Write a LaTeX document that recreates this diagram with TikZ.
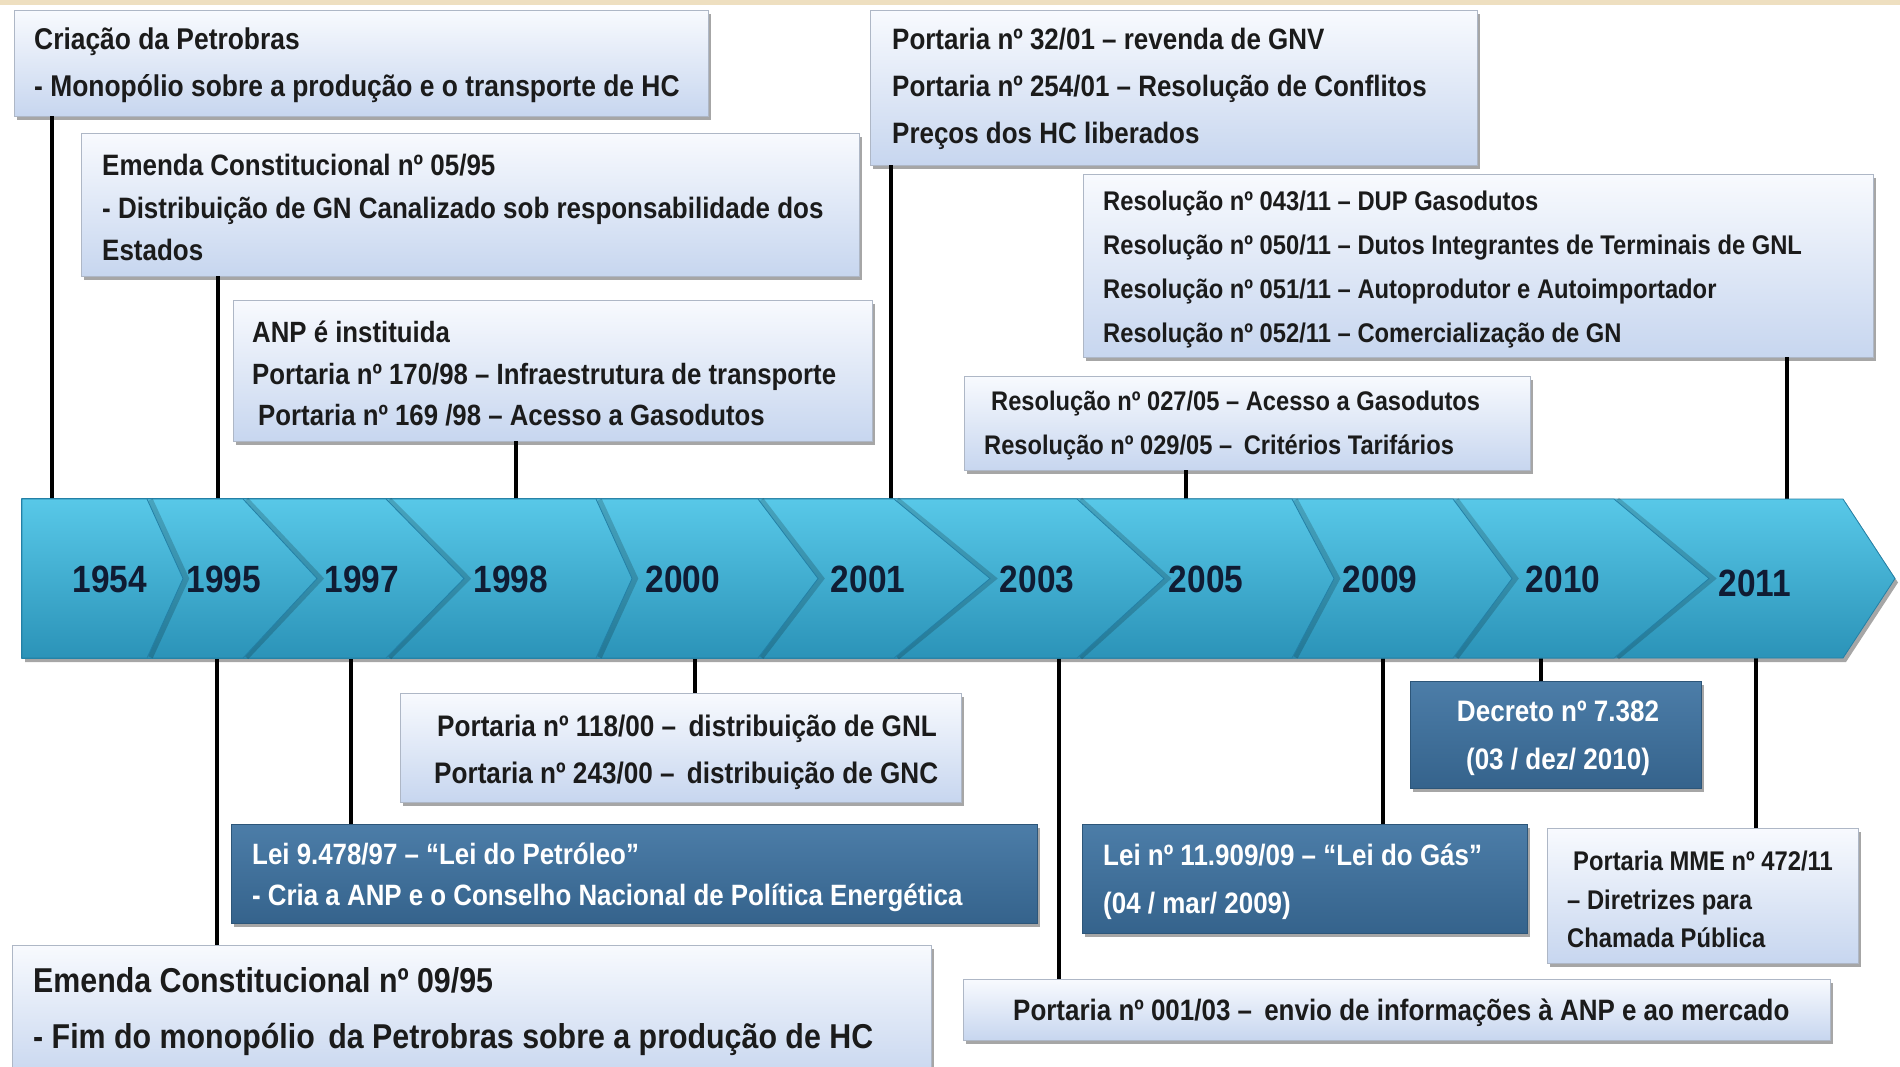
\documentclass[tikz,border=0pt]{standalone}
\usepackage{fontspec}
\newfontfamily\nar{Liberation Sans}[FakeStretch=0.88]
\usetikzlibrary{shadows,fit}
\definecolor{beige}{HTML}{EEDFC0}
\definecolor{lbtop}{HTML}{F8FAFE}
\definecolor{lbbot}{HTML}{C7D6EF}
\definecolor{lbline}{HTML}{AEB7C6}
\definecolor{dbtop}{HTML}{4C7DA8}
\definecolor{dbbot}{HTML}{35638C}
\definecolor{dbline}{HTML}{2D5679}
\definecolor{chtop}{HTML}{58C8E8}
\definecolor{chmid}{HTML}{3BB1D6}
\definecolor{chbot}{HTML}{2B93B8}
\definecolor{chline}{HTML}{2380A6}
\definecolor{yearc}{HTML}{101C33}
\definecolor{txtc}{HTML}{1B1B1B}
\begin{document}
\begin{tikzpicture}[x=1pt,y=-1pt,
  fs/.style 2 args={font=\nar\bfseries\fontsize{#1}{#2}\selectfont},
  lbox/.style={inner sep=0pt, outer sep=0pt, top color=lbtop, bottom color=lbbot,
    draw=lbline, line width=1pt,
    drop shadow={shadow xshift=3pt, shadow yshift=-4pt, fill=black, opacity=0.35}},
  dbox/.style={inner sep=0pt, outer sep=0pt, top color=dbtop, bottom color=dbbot,
    draw=dbline, line width=1pt,
    drop shadow={shadow xshift=3pt, shadow yshift=-4pt, fill=black, opacity=0.35}},
  txt/.style={inner sep=0pt, anchor=west, align=left, text=txtc, yshift=-3pt},
  wtxt/.style={inner sep=0pt, anchor=west, align=left, text=white, yshift=-3pt},
  yr/.style={inner sep=0pt, text=yearc, fs={38}{40}},
  connt/.style={draw=black, line width=4.5pt},
  connb/.style={draw=black, line width=3.5pt},
  chev/.style={top color=chtop, middle color=chmid, bottom color=chbot, draw=chline, line width=0.8pt},
]
\useasboundingbox (0,0) rectangle (1900,1066);
\fill[white] (0,0) rectangle (1900,1066);
\fill[beige] (0,0) rectangle (1900,5);

% coordinates on the timeline
\coordinate (tA) at (52,499);
\coordinate (tB) at (218,499);
\coordinate (tC) at (516,499);
\coordinate (tD) at (891,499);
\coordinate (tF) at (1186,499);
\coordinate (tE) at (1787,499);
\coordinate (bG) at (217,658);
\coordinate (bH) at (351,658);
\coordinate (bI) at (695,658);
\coordinate (bJ) at (1059,658);
\coordinate (bK) at (1383,658);
\coordinate (bL) at (1541,658);
\coordinate (bM) at (1756,658);

% boxes (geometry)
\node[lbox, fit={(14,10) (708,116)}] (A) {};
\node[lbox, fit={(81,133) (859,276)}] (B) {};
\node[lbox, fit={(233,300) (872,441)}] (C) {};
\node[lbox, fit={(870,10) (1477,165)}] (D) {};
\node[lbox, fit={(1083,174) (1873,357)}] (E) {};
\node[lbox, fit={(964,376) (1530,470)}] (F) {};
\node[lbox, fit={(12,945) (931,1080)}] (G) {};
\node[dbox, fit={(231,824) (1037,923)}] (H) {};
\node[lbox, fit={(400,693) (961,802)}] (I) {};
\node[lbox, fit={(963,979) (1830,1040)}] (J) {};
\node[dbox, fit={(1082,824) (1527,933)}] (K) {};
\node[dbox, fit={(1410,681) (1701,788)}] (L) {};
\node[lbox, fit={(1547,828) (1858,963)}] (M) {};

% connectors
\draw[connt] (tA |- A.south) -- (tA);
\draw[connt] (tB |- B.south) -- (tB);
\draw[connt] (tC |- C.south) -- (tC);
\draw[connt] (tD |- D.south) -- (tD);
\draw[connt] (tF |- F.south) -- (tF);
\draw[connt] (tE |- E.south) -- (tE);
\draw[connb] (bG) -- (bG |- G.north);
\draw[connb] (bH) -- (bH |- H.north);
\draw[connb] (bI) -- (bI |- I.north);
\draw[connb] (bJ) -- (bJ |- J.north);
\draw[connb] (bK) -- (bK |- K.north);
\draw[connb] (bL) -- (bL |- L.north);
\draw[connb] (bM) -- (bM |- M.north);

% timeline chevrons
\path[chev, drop shadow={shadow xshift=3pt, shadow yshift=-4pt, fill=black, opacity=0.35}]
  (22,499) -- (1843,499) -- (1895,578.5) -- (1843,658) -- (22,658) -- cycle;
\foreach \xt/\xp in {1614/1709, 1453/1512, 1292/1334, 1077/1164, 894/990, 758/818, 596/632, 386/464, 243/317, 147/183} {
  \draw[black, opacity=0.18, line width=6pt] ({\xt+3},500) -- ({\xp+3},578.5) -- ({\xt+3},657);
  \path[chev] (22,499) -- (\xt,499) -- (\xp,578.5) -- (\xt,658) -- (22,658) -- cycle;
}

% years
\node[yr] (y1954) at (110,579) {1954};
\node[yr] (y1995) at (224,579) {1995};
\node[yr] (y1997) at (362,579) {1997};
\node[yr] (y1998) at (511,579) {1998};
\node[yr] (y2000) at (683,579) {2000};
\node[yr] (y2001) at (868,579) {2001};
\node[yr] (y2003) at (1037,579) {2003};
\node[yr] (y2005) at (1206,579) {2005};
\node[yr] (y2009) at (1380,579) {2009};
\node[yr] (y2010) at (1563,579) {2010};
\node[yr] (y2011) at (1755,583) {2011};

% texts
\node[txt, fs={30}{47}] (At) at (34,62.5) {Criação da Petrobras\\- Monopólio sobre a produção e o transporte de HC};
\node[txt, fs={29.5}{42.5}] (Bt) at (102,204.5) {Emenda Constitucional nº 05/95\\- Distribuição de GN Canalizado sob responsabilidade dos\\Estados};
\node[txt, fs={29.3}{41.5}] (Ct) at (252,371) {ANP é instituida\\Portaria nº 170/98 – Infraestrutura de transporte\\\hspace*{6pt}Portaria nº 169 /98 – Acesso a Gasodutos};
\node[txt, fs={29.5}{47}] (Dt) at (892,86) {Portaria nº 32/01 – revenda de GNV\\Portaria nº 254/01 – Resolução de Conflitos\\Preços dos HC liberados};
\node[txt, fs={27}{44}] (Et) at (1103,267) {Resolução nº 043/11 – DUP Gasodutos\\Resolução nº 050/11 – Dutos Integrantes de Terminais de GNL\\Resolução nº 051/11 – Autoprodutor e Autoimportador\\Resolução nº 052/11 – Comercialização de GN};
\node[txt, fs={26.9}{44}] (Ft) at (984,423) {\hspace*{7pt}Resolução nº 027/05 – Acesso a Gasodutos\\Resolução nº 029/05 – \hspace{5pt}Critérios Tarifários};
\node[txt, fs={34.5}{56}] (Gt) at (33,1009) {Emenda Constitucional nº 09/95\\- Fim do monopólio \hspace{5pt}da Petrobras sobre a produção de HC};
\node[wtxt, fs={29.4}{41}] (Ht) at (252,874.5) {Lei 9.478/97 – “Lei do Petróleo”\\- Cria a ANP e o Conselho Nacional de Política Energética};
\node[txt, fs={29.7}{47}] (It) at (434,749.5) {\hspace*{3pt}Portaria nº 118/00 – \hspace{5pt}distribuição de GNL\\Portaria nº 243/00 – \hspace{5pt}distribuição de GNC};
\node[txt, fs={29.5}{47}] (Jt) at (1013,1010) {Portaria nº 001/03 – \hspace{5pt}envio de informações à ANP e ao mercado};
\node[wtxt, fs={29.5}{48}] (Kt) at (1103,879) {Lei nº 11.909/09 – “Lei do Gás”\\(04 / mar/ 2009)};
\node[inner sep=0pt, align=center, text=white, fs={29.6}{48}, yshift=-3pt] (Lt) at (1558,735) {Decreto nº 7.382\\(03 / dez/ 2010)};
\node[txt, fs={27}{38.5}] (Mt) at (1567,896.5) {\hspace*{6pt}Portaria MME nº 472/11\\– Diretrizes para\\Chamada Pública};
\end{tikzpicture}
\end{document}
